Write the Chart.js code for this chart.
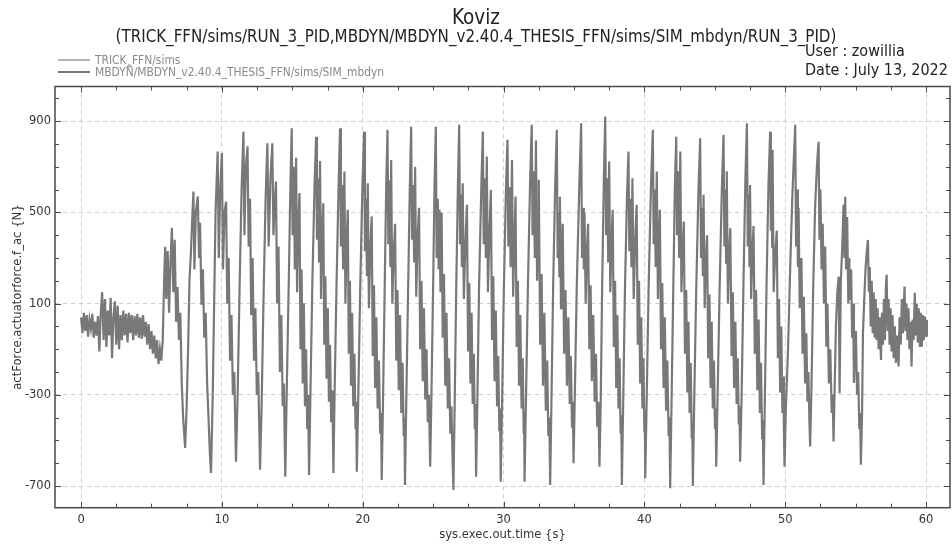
<!DOCTYPE html>
<html>
<head>
<meta charset="utf-8">
<script src="https://cdn.jsdelivr.net/npm/chart.js@4/dist/chart.umd.min.js"></script>
<style>
  html, body { margin: 0; padding: 0; background: #fff; }
  #wrap { position: relative; width: 952px; height: 546px; overflow: hidden; }
  #plot { position: absolute; left: 0; top: 0; }
  .txt { position: absolute; white-space: nowrap; color: #222;
         font-family: "DejaVu Sans Condensed", "Liberation Sans Narrow", "DejaVu Sans", sans-serif; }
  #title { left: 0; width: 952px; text-align: center; top: 5px; font-size: 20.5px; }
  #subtitle { left: 0; width: 952px; text-align: center; top: 26px; font-size: 16.8px; }
  #user { left: 805px; top: 41px; font-size: 16px; }
  #date { left: 805px; top: 60px; font-size: 16px; }
  #legend { position: absolute; left: 58px; top: 54px; }
  .leg-row { display: flex; align-items: center; height: 12px; }
  .leg-line { width: 32px; height: 2px; margin-right: 5px; }
  .leg-label { font-family: "DejaVu Sans Condensed", "Liberation Sans Narrow", sans-serif;
               font-size: 11.9px; color: #8a8a8a; }
</style>
</head>
<body>
<div id="wrap">
  <canvas id="plot" width="952" height="546"></canvas>
  <div class="txt" id="title">Koviz</div>
  <div class="txt" id="subtitle">(TRICK_FFN/sims/RUN_3_PID,MBDYN/MBDYN_v2.40.4_THESIS_FFN/sims/SIM_mbdyn/RUN_3_PID)</div>
  <div class="txt" id="user">User : zowillia</div>
  <div class="txt" id="date">Date : July 13, 2022</div>
  <div id="legend"></div>
</div>
<script>
/* actForce.actuatorforce.f_ac vs sys.exec.out.time. */

const xMajor = [0, 10, 20, 30, 40, 50, 60];
const xMinor = [2.5, 5, 7.5, 12.5, 15, 17.5, 22.5, 25, 27.5, 32.5, 35, 37.5,
  42.5, 45, 47.5, 52.5, 55, 57.5];
const yMajor = [-700, -300, 100, 500, 900];
const yMinor = [-600, -500, -400, -200, -100, 0, 200, 300, 400, 600, 700, 800, 1000];

// [time s, force N]
const quiet = [[0.0,40],[0.1,-30],[0.2,60],[0.3,-20],[0.4,50],[0.5,-45],[0.6,30],[0.7,-10],
  [0.8,55],[0.9,-50],[1.0,20],[1.1,-40],[1.2,45],[1.3,-110],[1.4,60],[1.5,150],[1.6,-60],
  [1.7,120],[1.8,-90],[1.9,70],[2.0,-40],[2.1,125],[2.2,-140],[2.3,40],[2.4,110],[2.5,-80],
  [2.6,90],[2.7,-100],[2.8,50],[2.9,-60],[3.0,70],[3.1,-40],[3.2,55],[3.3,-70],[3.4,60],
  [3.5,-30],[3.6,50],[3.7,-60],[3.8,45],[3.9,-40],[4.0,55],[4.1,-50],[4.2,40],[4.3,-55],
  [4.4,50],[4.5,-45],[4.6,20],[4.7,-80],[4.8,10],[4.9,-100],[5.0,-20],[5.1,-120],[5.2,-40],
  [5.3,-140],[5.4,-60],[5.5,-165],[5.6,-100],[5.7,-150],[5.8,-60]];

const onset = [[5.9,200],[5.97,349],[6.05,120],[6.15,330],[6.25,60],[6.35,280],[6.45,432],
  [6.55,150],[6.65,380],[6.75,20],[6.85,173],[6.95,-60],[7.05,60],[7.15,-250],[7.25,-400],
  [7.39,-533],[7.5,-350],[7.6,-100],[7.7,204],[7.8,320],[7.9,480],[7.98,591],[8.05,250],
  [8.15,500],[8.29,570],[8.38,300],[8.45,454],[8.55,95],[8.65,250],[8.75,-50],[8.85,60],
  [8.95,-250],[9.05,-400],[9.15,-560],[9.23,-643],
  [9.35,-300],[9.45,100],[9.55,500],[9.7,767],[9.78,300],[9.88,600],[10.0,760],[10.08,250],
  [10.18,500],[10.3,547],[10.38,100],[10.48,300],[10.58,-150],[10.68,50],[10.78,-300],
  [10.88,-200],[11.0,-593],
  [11.12,-300],[11.25,150],[11.4,600],[11.53,854],[11.6,400],[11.7,700],[11.82,790],[11.9,350],
  [12.0,560],[12.08,50],[12.18,300],[12.28,-150],[12.38,80],[12.48,-300],[12.58,-200],[12.71,-629],
  [12.82,-350],[12.95,100],[13.1,550],[13.23,803],[13.32,350],[13.45,650],[13.58,803],[13.66,400],
  [13.76,550],[13.84,635],[13.92,100],[14.02,350],[14.12,-200],[14.22,50],[14.32,-350],
  [14.4,-250],[14.5,-659]];

const cycles = [
  [14.6,-300],[14.75,200],[14.86,600],[14.96,869],[15.02,400],[15.1,700],[15.18,250],[15.27,739],
  [15.34,150],[15.42,450],[15.51,585],[15.58,-100],[15.66,250],[15.74,-250],[15.82,100],
  [15.9,-350],[15.98,-100],[16.06,-450],[16.12,-300],[16.19,-651],
  [16.28,-320],[16.42,180],[16.58,620],[16.69,832],[16.75,380],[16.83,650],[16.9,280],[16.97,725],
  [17.04,120],[17.12,420],[17.2,540],[17.27,-80],[17.35,220],[17.43,-230],[17.52,80],[17.6,-330],
  [17.68,-80],[17.76,-420],[17.84,-280],[17.92,-643],
  [18.0,-300],[18.13,150],[18.28,600],[18.39,869],[18.45,350],[18.53,620],[18.61,250],[18.7,679],
  [18.77,100],[18.86,380],[18.94,511],[19.01,-120],[19.09,200],[19.17,-260],[19.25,60],
  [19.33,-350],[19.41,-120],[19.49,-450],[19.53,-330],[19.58,-637],
  [19.68,-320],[19.82,160],[19.98,620],[20.1,854],[20.16,330],[20.24,560],[20.3,220],[20.36,628],
  [20.44,80],[20.54,350],[20.64,482],[20.71,-130],[20.8,180],[20.88,-270],[20.97,40],[21.06,-360],
  [21.15,-150],[21.24,-470],[21.3,-380],[21.35,-673],
  [21.44,-330],[21.56,170],[21.67,620],[21.76,862],[21.82,360],[21.9,640],[21.96,260],[22.02,730],
  [22.1,100],[22.2,330],[22.3,450],[22.38,-150],[22.47,160],[22.56,-280],[22.65,50],[22.74,-380],
  [22.83,-160],[22.91,-480],[22.96,-400],[23.0,-695],
  [23.09,-340],[23.22,150],[23.34,600],[23.44,876],[23.5,380],[23.58,620],[23.65,280],[23.72,700],
  [23.8,130],[23.9,400],[24.0,520],[24.08,-100],[24.17,200],[24.26,-240],[24.35,80],[24.44,-320],
  [24.53,-100],[24.62,-420],[24.7,-300],[24.79,-615],
  [24.88,-300],[25.0,180],[25.1,620],[25.19,876],[25.25,300],[25.33,560],[25.39,250],[25.45,511],
  [25.52,150],[25.6,498],[25.68,-50],[25.77,230],[25.86,-260],[25.95,60],[26.04,-360],
  [26.13,-140],[26.22,-470],[26.3,-350],[26.37,-560],[26.44,-717],
  [26.53,-340],[26.64,170],[26.76,620],[26.85,884],[26.91,360],[26.99,580],[27.04,260],[27.1,628],
  [27.18,120],[27.3,380],[27.4,533],[27.48,-110],[27.57,190],[27.65,-250],[27.73,60],[27.81,-340],
  [27.89,-120],[27.96,-450],[28.0,-340],[28.05,-659],
  [28.14,-330],[28.26,170],[28.42,610],[28.53,854],[28.59,360],[28.67,650],[28.74,300],[28.81,745],
  [28.89,150],[29.0,420],[29.1,599],[29.18,-60],[29.27,220],[29.36,-240],[29.45,70],[29.54,-350],
  [29.62,-130],[29.7,-460],[29.75,-360],[29.8,-681],
  [29.9,-320],[30.02,160],[30.17,600],[30.28,818],[30.34,350],[30.43,610],[30.5,260],[30.6,730],
  [30.68,130],[30.77,380],[30.85,570],[30.93,-90],[31.02,200],[31.1,-260],[31.19,50],[31.28,-360],
  [31.36,-140],[31.43,-470],[31.46,-380],[31.49,-681],
  [31.59,-330],[31.73,180],[31.88,620],[32.0,884],[32.06,400],[32.15,680],[32.22,300],[32.3,815],
  [32.38,200],[32.45,450],[32.5,643],[32.6,-80],[32.7,230],[32.8,-260],[32.9,60],[33.0,-370],
  [33.1,-150],[33.18,-480],[33.25,-400],[33.31,-695],
  [33.4,-330],[33.52,170],[33.66,600],[33.78,862],[33.84,300],[33.92,500],[33.96,220],[34.0,569],
  [34.08,80],[34.14,320],[34.2,450],[34.3,-120],[34.4,160],[34.5,-260],[34.6,40],[34.7,-340],
  [34.78,-130],[34.86,-440],[34.92,-330],[34.97,-600],
  [35.06,-300],[35.2,180],[35.38,620],[35.51,891],[35.57,300],[35.65,520],[35.7,250],[35.75,496],
  [35.83,100],[35.92,330],[36.0,450],[36.09,-100],[36.18,180],[36.27,-240],[36.37,50],[36.47,-330],
  [36.56,-120],[36.65,-440],[36.73,-330],[36.81,-615],
  [36.9,-330],[37.0,170],[37.12,640],[37.22,920],[37.28,400],[37.36,650],[37.43,280],[37.5,723],
  [37.58,150],[37.67,380],[37.75,511],[37.83,-90],[37.92,200],[38.0,-270],[38.08,50],[38.16,-360],
  [38.24,-140],[38.31,-470],[38.36,-390],[38.4,-695],
  [38.5,-320],[38.62,160],[38.76,560],[38.87,767],[38.93,330],[39.02,560],[39.08,260],[39.15,650],
  [39.24,120],[39.35,380],[39.45,533],[39.53,-80],[39.62,200],[39.7,-250],[39.78,40],[39.86,-360],
  [39.93,-140],[40.0,-460],[40.03,-380],[40.06,-666],
  [40.16,-330],[40.3,170],[40.47,620],[40.6,862],[40.66,360],[40.74,600],[40.8,260],[40.88,679],
  [40.96,120],[41.03,380],[41.1,511],[41.18,-100],[41.27,190],[41.36,-270],[41.45,40],[41.54,-370],
  [41.63,-150],[41.72,-480],[41.78,-400],[41.83,-710],
  [41.93,-330],[42.05,160],[42.16,600],[42.26,832],[42.32,400],[42.4,680],[42.47,300],[42.55,767],
  [42.63,150],[42.72,340],[42.8,460],[42.88,-120],[42.97,160],[43.05,-290],[43.13,20],[43.21,-380],
  [43.29,-160],[43.36,-490],[43.4,-420],[43.44,-700],
  [43.54,-320],[43.68,160],[43.84,600],[43.96,825],[44.02,300],[44.1,520],[44.15,220],[44.2,577],
  [44.28,80],[44.37,300],[44.45,400],[44.53,-140],[44.62,140],[44.7,-270],[44.78,20],[44.86,-360],
  [44.94,-150],[45.01,-450],[45.06,-360],[45.1,-615],
  [45.2,-300],[45.34,160],[45.5,600],[45.62,840],[45.68,350],[45.76,600],[45.8,280],[45.85,680],
  [45.93,100],[46.02,320],[46.1,430],[46.19,-130],[46.28,150],[46.37,-270],[46.46,20],[46.55,-340],
  [46.63,-140],[46.7,-430],[46.75,-350],[46.8,-593],
  [46.9,-320],[47.03,170],[47.17,640],[47.28,891],[47.34,350],[47.42,580],[47.46,260],[47.5,620],
  [47.58,120],[47.67,330],[47.75,440],[47.84,-120],[47.93,160],[48.02,-280],[48.11,30],[48.2,-380],
  [48.28,-160],[48.36,-490],[48.41,-410],[48.46,-695],
  [48.55,-330],[48.67,170],[48.81,620],[48.93,854],[48.98,420],[49.04,700],[49.07,350],[49.1,775],
  [49.18,150],[49.3,330],[49.4,420],[49.48,-140],[49.56,120],[49.64,-290],[49.72,0],[49.8,-380],
  [49.86,-220],[49.91,-460],[49.95,-615],
  [50.05,-350],[50.2,-100],[50.35,250],[50.5,560],[50.62,750],[50.71,884],[50.77,350],[50.85,600],
  [50.9,260],[50.95,520],[51.03,80],[51.1,250],[51.15,300],[51.23,-120],[51.32,130],[51.41,-250],
  [51.5,-30],[51.58,-330],[51.65,-200],[51.71,-400],[51.77,-527],
  [51.87,-250],[51.98,150],[52.12,520],[52.25,700],[52.37,810],[52.43,380],[52.5,600],[52.58,250],
  [52.66,450],[52.75,100],[52.84,350],[52.92,-89],[53.0,100],[53.1,-250],[53.2,-100],[53.3,-380],
  [53.37,-300],[53.43,-505]];

const decay = [[53.5,-300],[53.6,0],[53.7,150],[53.8,218],[53.86,-293],[53.95,200],[54.05,350],
  [54.14,533],[54.2,300],[54.26,569],[54.32,250],[54.4,480],[54.48,100],[54.55,300],[54.6,116],
  [54.68,250],[54.75,-50],[54.82,100],[54.88,-248],[54.95,-100],[55.02,-20],[55.1,-300],
  [55.18,-200],[55.26,-450],[55.32,-380],[55.37,-607],[55.45,-400],[55.52,-29],[55.6,100],
  [55.7,250],[55.8,335],[55.87,379],[55.94,150],[56.0,260],[56.07,0],[56.14,200],[56.21,-30],
  [56.28,150],[56.35,-50],[56.42,120],[56.49,-60],[56.56,80],[56.63,-100],[56.7,40],[56.8,-147],
  [56.87,60],[56.94,-80],[57.01,120],[57.08,-60],[57.15,180],[57.2,226],[57.27,-20],[57.34,120],
  [57.41,-80],[57.48,80],[57.55,-110],[57.62,50],[57.7,-140],[57.78,0],[57.86,-160],[57.94,-40],
  [58.05,-176],[58.12,40],[58.2,-80],[58.28,120],[58.36,-30],[58.47,175],[58.54,-20],[58.61,100],
  [58.68,-60],[58.75,80],[58.82,-100],[58.9,20],[58.97,-176],[59.04,30],[59.12,-60],[59.2,147],
  [59.27,-40],[59.34,100],[59.41,-70],[59.48,80],[59.56,-90],[59.63,60],[59.7,-89],[59.77,50],
  [59.84,-60],[59.92,43],[60.0,-40],[60.06,28]];

const mbdyn = [...quiet, ...onset, ...cycles, ...decay].map(([x, y]) => ({ x, y }));

const DATASETS = [
  { label: "TRICK_FFN/sims", color: "#b4b4b4", data: [] },
  { label: "MBDYÑ/MBDYN_v2.40.4_THESIS_FFN/sims/SIM_mbdyn", color: "#787878", data: mbdyn },
];

const FONT = "'DejaVu Sans', sans-serif";

/* frame and inward tick marks on all four sides */
const frameTicks = {
  id: "frameTicks",
  afterDraw(chart) {
    const { ctx, chartArea: a, scales: { x, y } } = chart;
    ctx.save();
    ctx.strokeStyle = "#4a4a4a";
    ctx.lineWidth = 1;
    ctx.beginPath();
    const xt = (v, len) => {
      const p = Math.round(x.getPixelForValue(v)) + 0.5;
      ctx.moveTo(p, a.bottom); ctx.lineTo(p, a.bottom - len);
      ctx.moveTo(p, a.top); ctx.lineTo(p, a.top + len);
    };
    const yt = (v, len) => {
      const p = Math.round(y.getPixelForValue(v)) + 0.5;
      ctx.moveTo(a.left, p); ctx.lineTo(a.left + len, p);
      ctx.moveTo(a.right, p); ctx.lineTo(a.right - len, p);
    };
    xMajor.forEach((v) => xt(v, 6));
    xMinor.forEach((v) => xt(v, 4));
    yMajor.forEach((v) => yt(v, 6));
    yMinor.forEach((v) => yt(v, 4));
    ctx.stroke();
    ctx.lineWidth = 1.5;
    ctx.strokeRect(a.left, a.top, a.right - a.left, a.bottom - a.top);
    ctx.restore();
  },
};

function buildLegend() {
  const wrap = document.getElementById("legend");
  for (const d of DATASETS) {
    const row = document.createElement("div");
    row.className = "leg-row";
    row.innerHTML = `<span class="leg-line" style="background:${d.color}"></span>` +
      `<span class="leg-label">${d.label}</span>`;
    wrap.appendChild(row);
  }
}

new Chart(document.getElementById("plot"), {
  type: "line",
  data: {
    datasets: DATASETS.map((d) => ({
      label: d.label,
      data: d.data,
      borderColor: d.color,
      borderWidth: 2.2,
      pointRadius: 0,
      tension: 0,
    })),
  },
  options: {
    responsive: false,
    animation: false,
    layout: { padding: { left: 0, top: 86.5, right: 2, bottom: 0 } },
    plugins: { legend: { display: false }, tooltip: { enabled: false } },
    scales: {
      x: {
        type: "linear",
        min: -1.85,
        max: 61.7,
        afterBuildTicks: (s) => { s.ticks = xMajor.map((value) => ({ value })); },
        afterFit: (s) => { s.height = 546 - 507.7; },
        grid: { color: "#cfcfcf", lineWidth: 1, drawTicks: false },
        border: { display: false, dash: [4, 4] },
        ticks: { padding: 5, color: "#333", font: { family: FONT, size: 11.5 }, maxRotation: 0 },
        title: {
          display: true, text: "sys.exec.out.time {s}", color: "#333",
          font: { family: FONT, size: 11.6 }, padding: { top: 0, bottom: 4 },
        },
      },
      y: {
        min: -795,
        max: 1052,
        afterBuildTicks: (s) => { s.ticks = yMajor.map((value) => ({ value })); },
        afterFit: (s) => { s.width = 55; },
        grid: { color: "#cfcfcf", lineWidth: 1, drawTicks: false },
        border: { display: false, dash: [4, 4] },
        ticks: { padding: 4, color: "#333", font: { family: FONT, size: 11.5 } },
        title: {
          display: true, text: "actForce.actuatorforce.f_ac {N}", color: "#333",
          font: { family: FONT, size: 11.6 }, padding: { top: 11, bottom: 0 },
        },
      },
    },
  },
  plugins: [frameTicks],
});

buildLegend();
</script>
</body>
</html>
